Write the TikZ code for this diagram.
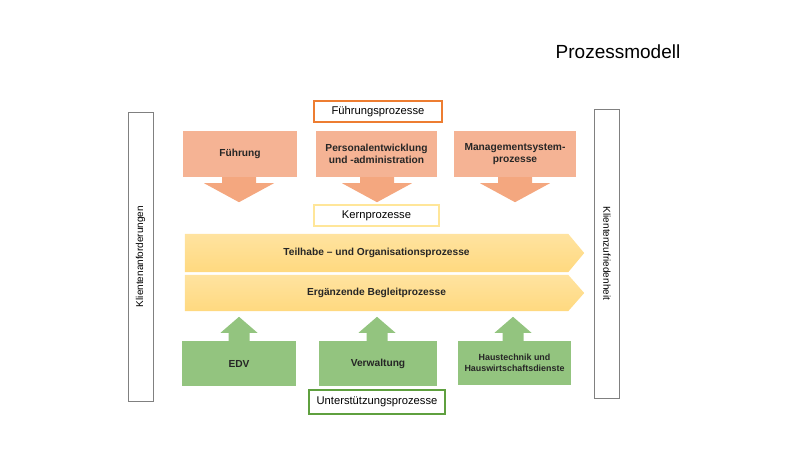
\documentclass[tikz,border=0pt]{standalone}
\usepackage{fontspec}
\setmainfont{Liberation Sans}
\usetikzlibrary{calc,backgrounds}
\definecolor{ofill}{HTML}{F5B394}
\definecolor{oarrow}{HTML}{F4A77F}
\definecolor{oborder}{HTML}{ED7D31}
\definecolor{yfill}{HTML}{FFD97F}
\definecolor{ytop}{HTML}{FFE3A0}
\definecolor{yborder}{HTML}{FFE699}
\definecolor{gfill}{HTML}{93C47F}
\definecolor{gborder}{HTML}{5FA03F}
\definecolor{sideborder}{HTML}{808080}
\tikzset{
  boxtext/.style={font=\fontsize{10.2}{12}\selectfont\bfseries, align=center, text=black!85, inner sep=0pt},
  obox/.style={boxtext, fill=ofill, minimum height=46pt},
  gbox/.style={boxtext, fill=gfill, minimum height=45pt},
  labelbox/.style={draw, line width=1.6pt, fill=white, font=\fontsize{11.2}{13}\selectfont, inner sep=0pt, minimum height=21pt},
  sidebox/.style={draw=sideborder, line width=0.8pt, fill=white, minimum width=25pt, minimum height=289pt, inner sep=0pt},
  sidetext/.style={font=\fontsize{10}{11}\selectfont, inner sep=0pt},
  ptext/.style={boxtext, minimum width=383pt},
  downarrow/.style={fill=oarrow},
  uparrow/.style={fill=gfill},
  pentafill/.style={top color=ytop, bottom color=yfill}
}
\begin{document}
\begin{tikzpicture}[x=1pt,y=-1pt]
\useasboundingbox (0,0) rectangle (800,450);

\node[font=\fontsize{19}{22}\selectfont] (title) at (618,52) {Prozessmodell};

% side boxes
\node[sidebox] (left) at (140.5,256.5) {};
\node[sidetext, rotate=90] (lefttext) at (left.center) {Klientenanforderungen};
\node[sidebox] (right) at (607,253.5) {};
\node[sidetext, rotate=-90] (righttext) at (right.center) {Klientenzufriedenheit};

% Fuehrungsprozesse
\node[labelbox, draw=oborder, minimum width=128pt] (fp) at (378,111.5) {Führungsprozesse};
\node[obox, minimum width=114pt] (f1) at (240,154) {Führung};
\node[obox, minimum width=121pt] (f2) at (376.5,154) {Personalentwicklung\\und -administration};
\node[obox, minimum width=122pt] (f3) at (515,154) {Managementsystem-\\prozesse};

\foreach \n/\dx in {f1/-1, f2/0.5, f3/0}{
  \fill[downarrow] ($(\n.south)+(\dx-17,0)$) -- ($(\n.south)+(\dx-17,6)$) -- ($(\n.south)+(\dx-35,6)$)
     -- ($(\n.south)+(\dx,25)$) -- ($(\n.south)+(\dx+35,6)$) -- ($(\n.south)+(\dx+17,6)$)
     -- ($(\n.south)+(\dx+17,0)$) -- cycle;
}

% Kernprozesse
\node[labelbox, draw=yborder, minimum width=125pt] (kp) at (376.5,215.5) {Kernprozesse};
\node[ptext, minimum height=38pt] (t1) at (376.5,253) {Teilhabe – und Organisationsprozesse};
\node[ptext, minimum height=36pt] (t2) at (376.5,293) {Ergänzende Begleitprozesse};
\begin{scope}[on background layer]
  \foreach \n in {t1,t2}{
    \shade[pentafill] (\n.north west) -- (\n.north east) -- ($(\n.east)+(16,0)$)
      -- (\n.south east) -- (\n.south west) -- cycle;
  }
\end{scope}

% Unterstuetzungsprozesse
\node[gbox, minimum width=114pt] (g1) at (239,363.5) {EDV};
\node[gbox, minimum width=118pt] (g2) at (378,363.5) {Verwaltung};
\node[gbox, minimum width=113pt, minimum height=44pt, font=\fontsize{8.9}{11}\selectfont\bfseries] (g3) at (514.5,363) {Haustechnik und\\Hauswirtschaftsdienste};
\foreach \n/\dx in {g1/0, g2/-1, g3/-1.5}{
  \fill[uparrow] ($(\n.north)+(\dx-10.5,0)$) -- ($(\n.north)+(\dx-10.5,-8)$) -- ($(\n.north)+(\dx-18.5,-8)$)
     -- ($(\n.north)+(\dx,-24)$) -- ($(\n.north)+(\dx+18.5,-8)$) -- ($(\n.north)+(\dx+10.5,-8)$)
     -- ($(\n.north)+(\dx+10.5,0)$) -- cycle;
}
\node[labelbox, draw=gborder, minimum width=136pt, minimum height=24pt] (up) at (377,402) {Unterstützungsprozesse};
\end{tikzpicture}
\end{document}
